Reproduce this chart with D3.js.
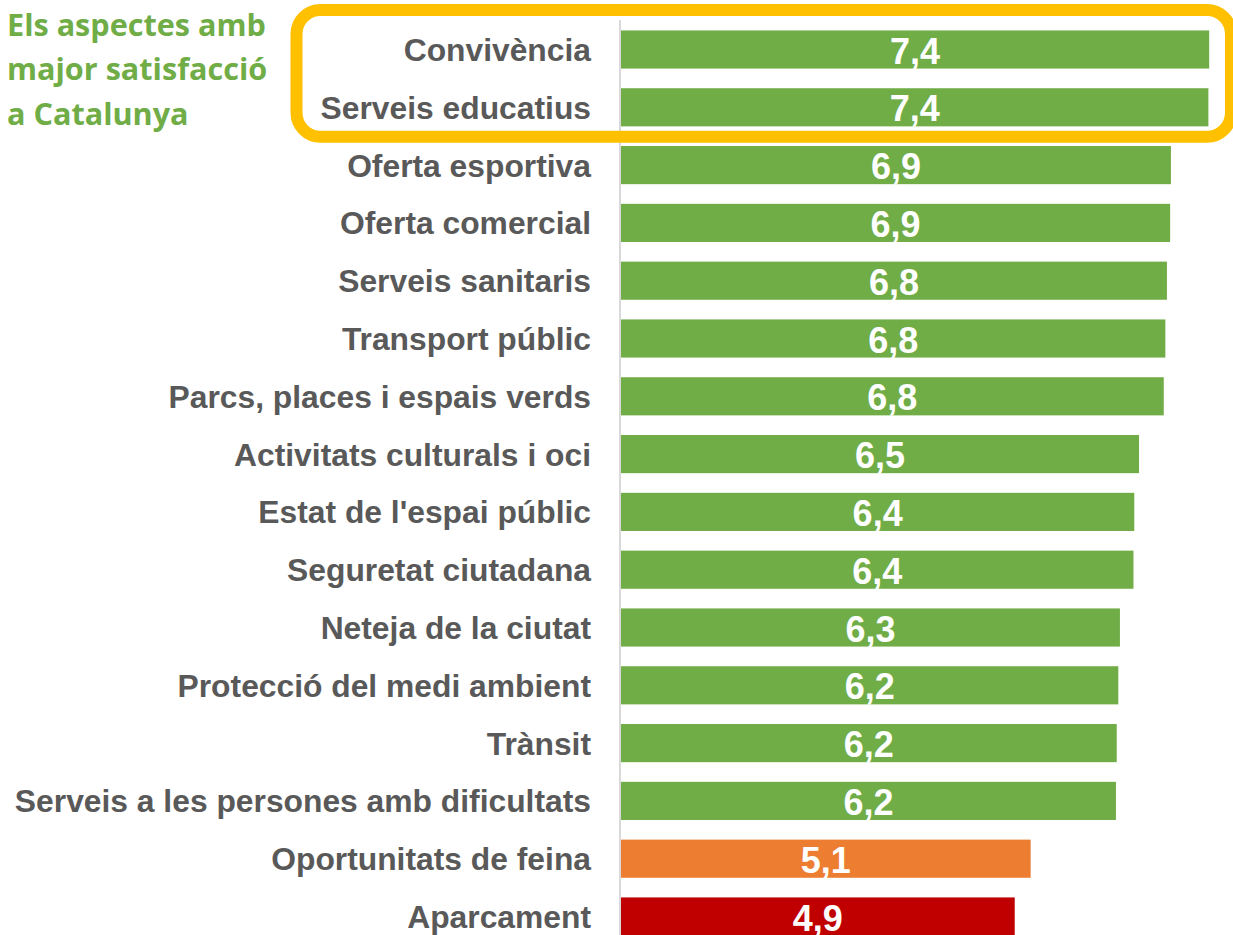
<!DOCTYPE html>
<html>
<head>
<meta charset="utf-8">
<script src="https://cdn.jsdelivr.net/npm/d3@7"></script>
<style>
  body { margin: 0; background: #fff; }
  svg { display: block; }
</style>
</head>
<body>
<div id="chart"></div>
<script>
// categories, top to bottom
var categories = ["Convivència", "Serveis educatius", "Oferta esportiva", "Oferta comercial",
  "Serveis sanitaris", "Transport públic", "Parcs, places i espais verds",
  "Activitats culturals i oci", "Estat de l'espai públic", "Seguretat ciutadana",
  "Neteja de la ciutat", "Protecció del medi ambient", "Trànsit",
  "Serveis a les persones amb dificultats", "Oportunitats de feina", "Aparcament"]

// satisfaction scores (labels show one decimal)
var values = [7.38, 7.37, 6.90, 6.89, 6.85, 6.83, 6.81, 6.50, 6.44, 6.43,
  6.26, 6.24, 6.22, 6.21, 5.14, 4.94]

var barColors = ["#70AD47", "#70AD47", "#70AD47", "#70AD47", "#70AD47", "#70AD47",
  "#70AD47", "#70AD47", "#70AD47", "#70AD47", "#70AD47", "#70AD47", "#70AD47",
  "#70AD47", "#ED7D31", "#C00000"]

var titleLines = ["Els aspectes amb", "major satisfacció", "a Catalunya"]
var highlighted = ["Convivència", "Serveis educatius"]

var data = categories.map(function(c, i) {
  return {cat: c, value: values[i], color: barColors[i]}
})

var width = 1233, height = 935

var svg = d3.select("#chart")
  .append("svg")
  .attr("width", width)
  .attr("height", height)

// scales
var x = d3.scaleLinear()
  .domain([0, 8])
  .range([621, 621 + 8 * 79.7])

var y = d3.scaleBand()
  .domain(categories)
  .range([20.6, 945.4])
  .paddingInner(0.34)
  .paddingOuter(0.17)

var fmt = function(v) { return v.toFixed(1).replace(".", ",") }

// bars
svg.append("g")
  .selectAll("rect")
  .data(data)
  .enter()
  .append("rect")
  .attr("x", x(0))
  .attr("y", function(d) { return y(d.cat) })
  .attr("width", function(d) { return x(d.value) - x(0) })
  .attr("height", y.bandwidth())
  .style("fill", function(d) { return d.color })

// axis line
svg.append("line")
  .attr("x1", x(0) - 1).attr("x2", x(0) - 1)
  .attr("y1", 20).attr("y2", height)
  .style("stroke", "#d9d9d9")
  .style("stroke-width", 2)

// category labels
svg.append("g")
  .selectAll("text")
  .data(data)
  .enter()
  .append("text")
  .attr("x", 591)
  .attr("y", function(d) { return y(d.cat) + y.bandwidth() / 2 })
  .attr("dy", "0.36em")
  .style("text-anchor", "end")
  .style("font-family", "'Liberation Sans', Arial, sans-serif")
  .style("font-weight", "bold")
  .style("font-size", "31.8px")
  .style("fill", "#595959")
  .text(function(d) { return d.cat })

// value labels
svg.append("g")
  .selectAll("text")
  .data(data)
  .enter()
  .append("text")
  .attr("x", function(d) { return (x(0) + x(d.value)) / 2 })
  .attr("y", function(d) { return y(d.cat) + y.bandwidth() / 2 })
  .attr("dy", "0.39em")
  .style("text-anchor", "middle")
  .style("font-family", "'Liberation Sans', Arial, sans-serif")
  .style("font-weight", "bold")
  .style("font-size", "36px")
  .style("fill", "#fff")
  .text(function(d) { return fmt(d.value) })

// highlight box round the top two
var top0 = y(highlighted[0]), top1 = y(highlighted[1]) + y.bandwidth()
svg.append("rect")
  .attr("x", 296.5)
  .attr("y", top0 - 20.5)
  .attr("width", 934.5)
  .attr("height", top1 - top0 + 31)
  .attr("rx", 24)
  .style("fill", "none")
  .style("stroke", "#FFC000")
  .style("stroke-width", 12)

// title
svg.append("text")
  .style("font-family", "'Open Sans', sans-serif")
  .style("font-weight", "bold")
  .style("font-size", "30.6px")
  .style("fill", "#70AD47")
  .selectAll("tspan")
  .data(titleLines)
  .enter()
  .append("tspan")
  .attr("x", 7)
  .attr("y", function(d, i) { return 35.5 + i * 44.5 })
  .text(function(d) { return d })
</script>
</body>
</html>
